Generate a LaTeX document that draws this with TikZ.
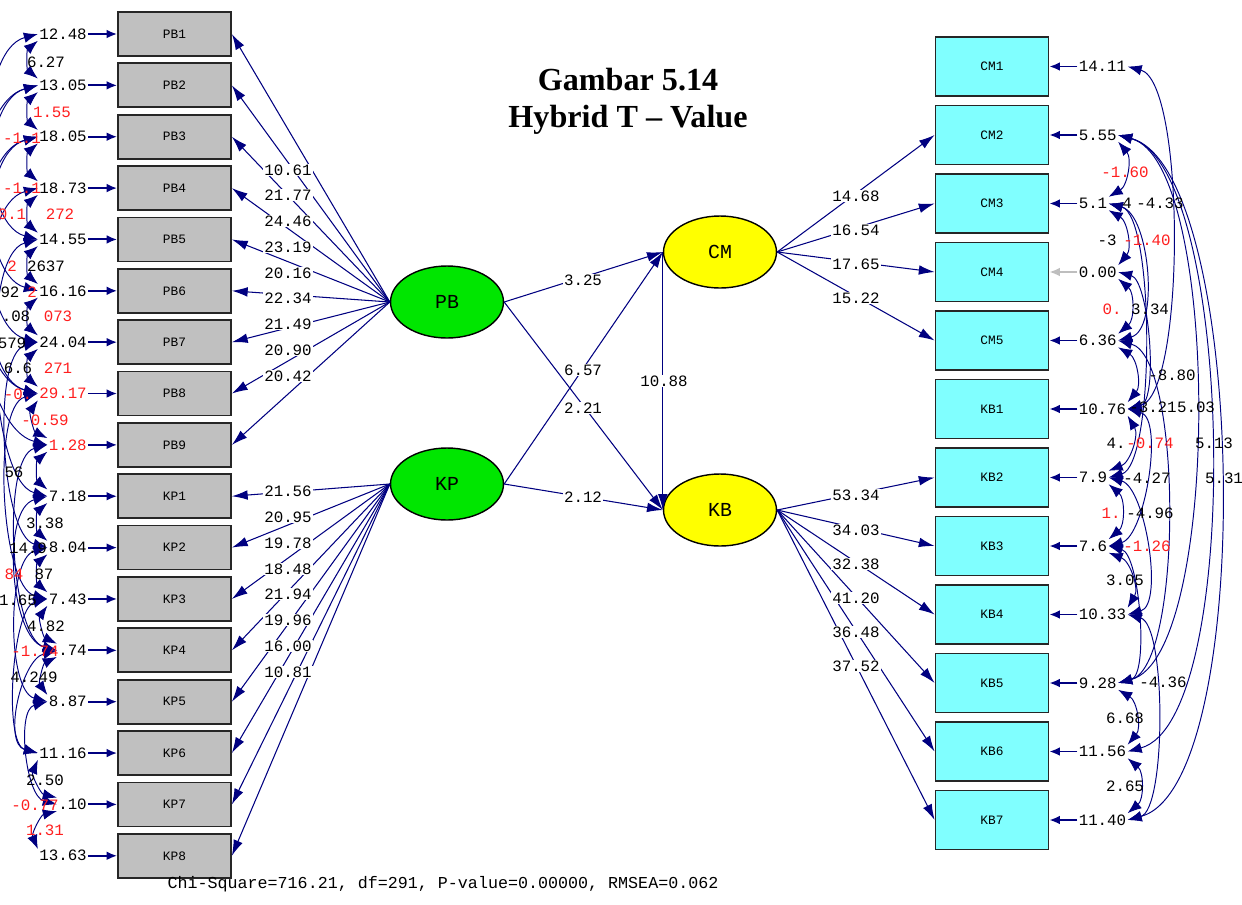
\documentclass[tikz,border=0pt]{standalone}
\usepackage{fontspec}
\setmainfont{Liberation Serif}
\setmonofont{Liberation Mono}
\usetikzlibrary{arrows.meta,positioning,shapes.geometric}
\definecolor{lnavy}{RGB}{0,0,128}
\definecolor{lgray}{RGB}{192,192,192}
\definecolor{lsilver}{RGB}{190,190,190}
\definecolor{lcyan}{RGB}{128,255,255}
\definecolor{lgreen}{RGB}{0,230,0}
\definecolor{lyellow}{RGB}{255,255,0}
\definecolor{lred}{RGB}{255,30,30}
\begin{document}
\begin{tikzpicture}[x=0.02cm,y=-0.02cm,
    obsL/.style={draw=black!85,line width=1pt,fill=lgray,minimum width=2.26cm,minimum height=0.88cm,inner sep=0pt,font=\ttfamily\fontsize{7.3}{8}\selectfont},
    obsR/.style={obsL,fill=lcyan,minimum height=1.18cm},
    lat/.style={ellipse,draw=black,line width=0.8pt,minimum width=2.26cm,minimum height=1.44cm,inner sep=0pt,font=\ttfamily\fontsize{11.3}{12}\selectfont},
    load/.style={draw=lnavy,line width=0.6pt,-{Latex[length=9pt,width=5.5pt]}},
    err/.style={draw=lnavy,line width=1.1pt,-{Latex[length=6pt,width=5pt]}},
    cov/.style={draw=lnavy,line width=0.55pt,{Latex[length=8pt,width=6pt]}-{Latex[length=8pt,width=6pt]}},
    lbl/.style={fill=white,inner sep=0.6pt,font=\ttfamily\fontsize{9}{10}\selectfont},
    elbl/.style={inner sep=0.6pt,font=\ttfamily\fontsize{9}{10}\selectfont},
    clbl/.style={inner sep=0pt,font=\ttfamily\fontsize{9}{10}\selectfont}]
  \useasboundingbox (0,0) rectangle (1242,904);
  % 标题
  \node[font=\bfseries\fontsize{18.3}{22}\selectfont] (title) at (628,80) {Gambar 5.14};
  \node[font=\bfseries\fontsize{18.3}{22}\selectfont] (subtitle) at (628,120) {Hybrid T – Value};
  % 观测变量
  \foreach \n [count=\k from 0] in {PB1,PB2,PB3,PB4,PB5,PB6,PB7,PB8,PB9,KP1,KP2,KP3,KP4,KP5,KP6,KP7,KP8}
    \node[obsL] (\n) at (174.5,{34+51.36*\k}) {\n};
  \foreach \n [count=\k from 0] in {CM1,CM2,CM3,CM4,CM5,KB1,KB2,KB3,KB4,KB5,KB6,KB7}
    \node[obsR] (\n) at (992,{66.5+68.5*\k}) {\n};
  % 潜变量
  \node[lat,fill=lgreen] (PB) at (447,302) {PB};
  \node[lat,fill=lgreen] (KP) at (447,484) {KP};
  \node[lat,fill=lyellow] (CM) at (720,252) {CM};
  \node[lat,fill=lyellow] (KB) at (720,510) {KB};
  % 因子载荷
  \foreach \n in {PB1,PB2,PB3,PB4,PB5,PB6,PB7,PB8,PB9}
    \draw[load] (PB.west) -- (\n.east);
  \foreach \n in {KP1,KP2,KP3,KP4,KP5,KP6,KP7,KP8}
    \draw[load] (KP.west) -- (\n.east);
  \foreach \n in {CM2,CM3,CM4,CM5}
    \draw[load] (CM.east) -- (\n.west);
  \foreach \n in {KB2,KB3,KB4,KB5,KB6,KB7}
    \draw[load] (KB.east) -- (\n.west);
  \foreach \n/\t/\ly in {PB1/10.61/170,PB2/21.77/195,PB3/24.46/221,PB4/23.19/247,PB5/20.16/273,PB6/22.34/298,PB7/21.49/324,PB8/20.90/350,PB9/20.42/376,
      KP1/21.56/491,KP2/20.95/517,KP3/19.78/543,KP4/18.48/569,KP5/21.94/594,KP6/19.96/620,KP7/16.00/646,KP8/10.81/672}
    \node[lbl] (t\n) at (288,\ly) {\t};
  \foreach \n/\t/\ly in {CM2/14.68/196,CM3/16.54/230,CM4/17.65/264,CM5/15.22/298,
      KB2/53.34/495,KB3/34.03/530,KB4/32.38/564,KB5/41.20/598,KB6/36.48/632,KB7/37.52/666}
    \node[lbl] (t\n) at (856,\ly) {\t};
  % 结构路径
  \draw[load] (PB.east) -- (CM.west);
  \draw[load] (PB.east) -- (KB.west);
  \draw[load] (KP.east) -- (CM.west);
  \draw[load] (KP.east) -- (KB.west);
  \draw[load] (CM.west) -- (KB.west);
  \node[lbl] (tPBCM) at (583,280) {3.25};
  \node[lbl] (tKPCM) at (583,370) {6.57};
  \node[lbl] (tPBKB) at (583,408) {2.21};
  \node[lbl] (tKPKB) at (583,497) {2.12};
  \node[lbl] (tCMKB) at (664,381) {10.88};
  % 误差方差
  \foreach \n/\t/\c in {PB1/12.48/black,PB2/13.05/black,PB3/18.05/black,PB4/18.73/black,PB5/14.55/black,PB6/16.16/black,PB7/24.04/black,PB8/29.17/lred,PB9/1.28/lred,
      KP1/7.18/black,KP2/8.04/black,KP3/7.43/black,KP4/.74/black,KP5/8.87/black,KP6/11.16/black,KP7/.10/black,KP8/13.63/black}{
    \node[elbl,text=\c,left=0.58cm of \n] (d\n) {\t};
    \draw[err] (d\n) -- (\n);
  }
  \foreach \n/\t/\a in {CM1/14.11/lnavy,CM2/5.55/lnavy,CM3/5.1/lnavy,CM4/0.00/lsilver,CM5/6.36/lnavy,KB1/10.76/lnavy,
      KB2/7.9/lnavy,KB3/7.6/lnavy,KB4/10.33/lnavy,KB5/9.28/lnavy,KB6/11.56/lnavy,KB7/11.40/lnavy}{
    \node[elbl,right=0.56cm of \n] (d\n) {\t};
    \draw[err,draw=\a] (d\n) -- (\n);
  }
  % 误差协方差（左）
  \foreach \a/\b in {PB1/PB2,PB2/PB3,PB3/PB4,PB4/PB5,PB5/PB6,PB6/PB7,PB7/PB8,PB8/PB9,PB9/KP1,
      KP1/KP2,KP2/KP3,KP3/KP4,KP4/KP5,KP6/KP7,KP7/KP8}
    \draw[cov] (d\a.south west) to[bend right=50] (d\b.north west);
  \foreach \a/\b/\l in {PB1/PB5/0.8,PB2/PB6/0.8,PB2/PB8/0.7,PB3/PB7/0.8,PB3/PB9/0.7,PB4/PB8/0.8,PB5/KP1/0.6,PB7/KP2/0.6,
      PB8/KP3/0.6,PB9/KP4/0.6,KP1/KP4/0.8,KP2/KP5/0.7,KP3/KP6/0.6,KP4/KP6/0.9,KP5/KP7/0.8}
    \draw[cov] (d\a.west) to[out=195,in=165,looseness=\l] (d\b.west);
  % 误差协方差（右）
  \foreach \a/\b in {CM2/CM3,CM3/CM4,CM4/CM5,CM5/KB1,KB1/KB2,KB2/KB3,KB3/KB4,KB5/KB6,KB6/KB7}
    \draw[cov] (d\a.south east) to[bend left=50] (d\b.north east);
  \foreach \a/\b/\l in {CM1/KB1/0.45,CM2/KB5/0.5,CM2/KB6/0.5,CM2/KB7/0.5,CM3/KB2/0.45,CM4/KB1/0.6,CM3/CM5/0.8,
      KB1/KB3/0.7,KB2/KB4/0.7,KB3/KB5/0.6,KB4/KB7/0.5,CM5/KB5/0.5}
    \draw[cov] (d\a.east) to[out=-15,in=15,looseness=\l] (d\b.east);
  % 协方差数值
  \foreach \x/\y/\c/\t [count=\k] in {46/62/black/6.27,52/112/lred/1.55,22/138/lred/-1.1,22/188/lred/-1.1,12/214/lred/0.1,60/214/lred/272,
      12/266/lred/2,46/266/black/2637,10/292/black/92,32/292/lred/2,16/316/black/.08,58/316/lred/073,12/343/black/579,
      18/368/black/6.6,58/368/lred/271,18/394/lred/-0.,45/420/lred/-0.59,14/472/black/56,45/523/black/3.38,28/548/black/14.9,
      14/574/lred/84,44/574/black/87,18/600/black/1.65,46/626/black/4.82,35/651/lred/-1.74,34/677/black/4.249,
      45/780/black/2.50,35/805/lred/-0.77,45/830/lred/1.31}
    \node[clbl,text=\c] (cL\k) at (\x,\y) {\t};
  \foreach \x/\y/\c/\t [count=\k] in {1125/172/lred/-1.60,1127/203/black/4,1160/203/black/-4.33,1107/240/black/-3,1147/240/lred/-1.40,
      1112/309/lred/0.,1150/309/black/3.34,1172/375/black/-8.80,1153/407/black/-3.21,1196/407/black/5.03,1116/443/black/4.,
      1150/443/lred/-0.74,1214/443/black/5.13,1147/478/black/-4.27,1224/478/black/5.31,1111/513/lred/1.,1150/513/black/-4.96,
      1147/546/lred/-1.26,1125/580/black/3.05,1163/682/black/-4.36,1125/718/black/6.68,1125/786/black/2.65}
    \node[clbl,text=\c] (cR\k) at (\x,\y) {\t};
  % 拟合指标
  \node[font=\ttfamily\fontsize{9.5}{11}\selectfont] (fit) at (443,884) {Chi-Square=716.21, df=291, P-value=0.00000, RMSEA=0.062};
\end{tikzpicture}
\end{document}
